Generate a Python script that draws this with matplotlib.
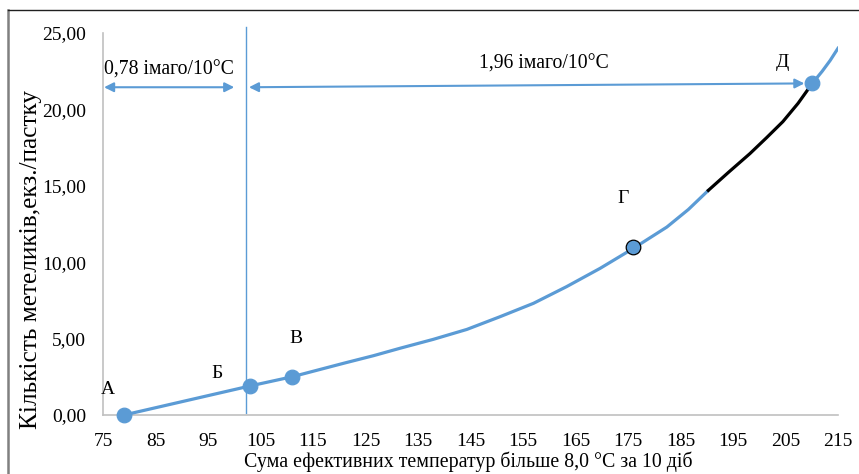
import matplotlib.pyplot as plt
from matplotlib.lines import Line2D

# --- data ---
curve_x = [79, 103, 111, 116, 121, 126.5, 131.6, 137.9, 144.3, 150.6, 157.0, 163.3, 169.7, 176.0, 182.4, 186.5, 190.3]
curve_y = [0.0, 1.9, 2.5, 2.95, 3.4, 3.88, 4.37, 4.95, 5.6, 6.43, 7.31, 8.4, 9.6, 10.9, 12.3, 13.45, 14.7]
black_x = [190.3, 194.2, 198.2, 201.4, 204.5, 207.4, 210.1]
black_y = [14.7, 15.9, 17.1, 18.15, 19.2, 20.4, 21.7]
tail_x = [210.1, 212.0, 213.5, 215]
tail_y = [21.7, 22.5, 23.2, 24.0]

pt_names = ["А", "Б", "В", "Г", "Д"]
pt_x = [79, 103, 111, 176, 210]
pt_y = [0.0, 1.9, 2.5, 11.0, 21.7]

sep_x = 102.3          # vertical divider
rate_left = "0,78 імаго/10°С"
rate_right = "1,96 імаго/10°С"

xticks = list(range(75, 216, 10))
yticks = [0, 5, 10, 15, 20, 25]

BLUE = "#5B9BD5"
plt.rcParams["font.family"] = ["Liberation Serif", "DejaVu Serif"]

fig = plt.figure(figsize=(8.59, 4.74), dpi=100)
ax = fig.add_axes([103/859, 59/474, 735/859, 382/474])
ax.set_xlim(75, 215)
ax.set_ylim(0, 25)

ax.plot(curve_x, curve_y, color=BLUE, lw=2.3, solid_capstyle="round", solid_joinstyle="round", zorder=3)
ax.plot(black_x, black_y, color="black", lw=2.3, solid_joinstyle="round", zorder=3)
ax.plot(tail_x, tail_y, color=BLUE, lw=2.3, solid_joinstyle="round", zorder=3)

for i, (px, py) in enumerate(zip(pt_x, pt_y)):
    edge = "black" if pt_names[i] == "Г" else BLUE
    ax.plot(px, py, "o", ms=10.5, color=BLUE, mec=edge, mew=0.9, zorder=4, clip_on=False)

label_off = {"А": (-3.0, 1.7), "Б": (-6.3, 2.7), "В": (0.7, 5.0), "Г": (-1.9, 14.2), "Д": (-5.5, 23.1)}
for n, px, py in zip(pt_names, pt_x, pt_y):
    ax.text(px + label_off[n][0], label_off[n][1], n, fontsize=14, ha="center", va="center")

ax.axvline(sep_x, ymin=0.005, ymax=1.015, color=BLUE, lw=1.0, clip_on=False)

arr = dict(arrowstyle="<|-|>", color=BLUE, lw=1.5, mutation_scale=14, shrinkA=0, shrinkB=0)
ax.annotate("", xy=(75.2, 21.45), xytext=(100.0, 21.45), arrowprops=arr)
ax.annotate("", xy=(102.8, 21.45), xytext=(208.6, 21.7), arrowprops=arr)
ax.text(87.6, 22.6, rate_left, fontsize=14.2, ha="center", va="center")
ax.text(158.9, 23.0, rate_right, fontsize=14.2, ha="center", va="center")

ax.set_xticks(xticks)
ax.set_xticklabels([str(t) for t in xticks])
ax.set_yticks(yticks)
ax.set_yticklabels([f"{t:.2f}".replace(".", ",") for t in yticks])
ax.tick_params(length=0, labelsize=14, pad=13)
ax.tick_params(axis="y", pad=12)
for s in ["top", "right"]:
    ax.spines[s].set_visible(False)
for s in ["left", "bottom"]:
    ax.spines[s].set_color("#c0c0c0")
    ax.spines[s].set_linewidth(1.2)

ax.set_ylabel("Кількість метеликів,екз./пастку", fontsize=18.3)
ax.yaxis.set_label_coords(-0.083, 0.406)
fig.text(0.545, 0.004, "Сума ефективних температур більше 8,0 °С за 10 діб",
         fontsize=14.3, ha="center", va="bottom")

# outer frame of the cropped picture
fig.add_artist(Line2D([8/859, 8/859], [0, 1 - 10/474], color="#808080", lw=1.8))
fig.add_artist(Line2D([8/859, 1], [1 - 10/474, 1 - 10/474], color="#202020", lw=1.0))

fig.savefig("out.png", dpi=100)
